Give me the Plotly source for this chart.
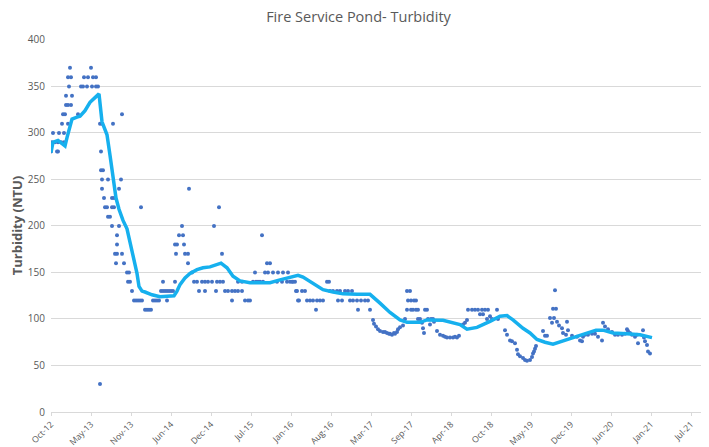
import plotly.graph_objects as go

# Individual turbidity samples (NTU)
sample_dates = [
    "2012-10-18", "2012-10-23", "2012-10-28", "2012-11-07", "2012-11-17", "2012-11-22", "2012-11-22", "2012-11-27",
    "2012-12-07", "2012-12-12", "2012-12-17", "2012-12-22", "2012-12-22", "2012-12-27", "2013-01-01", "2013-01-01",
    "2013-01-11", "2013-01-11", "2013-01-11", "2013-01-16", "2013-01-21", "2013-01-26", "2013-01-26", "2013-01-31",
    "2013-03-02", "2013-03-17", "2013-03-27", "2013-04-01", "2013-04-16", "2013-04-21", "2013-05-06", "2013-05-11",
    "2013-05-16", "2013-05-31", "2013-05-31", "2013-06-10", "2013-06-20", "2013-06-20", "2013-06-25", "2013-06-25",
    "2013-06-30", "2013-06-30", "2013-06-30", "2013-07-05", "2013-07-10", "2013-07-15", "2013-07-25", "2013-07-30",
    "2013-07-30", "2013-08-09", "2013-08-19", "2013-08-19", "2013-08-19", "2013-08-24", "2013-08-29", "2013-08-29",
    "2013-09-03", "2013-09-08", "2013-09-13", "2013-09-13", "2013-09-13", "2013-09-23", "2013-09-23", "2013-10-03",
    "2013-10-08", "2013-10-08", "2013-10-18", "2013-11-02", "2013-11-07", "2013-11-12", "2013-11-17", "2013-11-27",
    "2013-12-07", "2013-12-17", "2013-12-27", "2014-01-06", "2014-01-11", "2014-01-16", "2014-01-31", "2014-02-10",
    "2014-02-20", "2014-03-02", "2014-03-12", "2014-03-22", "2014-04-01", "2014-04-11", "2014-04-21", "2014-05-01",
    "2014-05-01", "2014-05-11", "2014-05-21", "2014-05-21", "2014-05-31", "2014-06-10", "2014-06-20", "2014-06-30",
    "2014-06-30", "2014-07-05", "2014-07-10", "2014-07-20", "2014-08-04", "2014-08-09", "2014-08-14", "2014-08-19",
    "2014-09-03", "2014-09-03", "2014-09-08", "2014-09-23", "2014-10-03", "2014-10-18", "2014-10-28", "2014-11-12",
    "2014-11-27", "2014-11-27", "2014-12-12", "2015-01-01", "2015-01-11", "2015-01-21", "2015-01-26", "2015-02-05",
    "2015-02-10", "2015-02-20", "2015-02-25", "2015-03-07", "2015-03-22", "2015-04-11", "2015-04-11", "2015-04-26",
    "2015-05-11", "2015-05-11", "2015-05-31", "2015-05-31", "2015-06-15", "2015-06-30", "2015-07-10", "2015-07-25",
    "2015-08-04", "2015-08-09", "2015-08-19", "2015-08-29", "2015-09-08", "2015-09-13", "2015-09-23", "2015-10-03",
    "2015-10-08", "2015-10-18", "2015-11-02", "2015-11-22", "2015-11-27", "2015-12-17", "2015-12-22", "2016-01-11",
    "2016-01-16", "2016-01-26", "2016-02-05", "2016-02-10", "2016-02-20", "2016-02-25", "2016-03-01", "2016-03-06",
    "2016-03-11", "2016-03-26", "2016-04-10", "2016-04-20", "2016-05-05", "2016-05-20", "2016-06-04", "2016-06-09",
    "2016-06-24", "2016-07-09", "2016-07-29", "2016-08-08", "2016-08-13", "2016-08-28", "2016-09-17", "2016-09-22",
    "2016-10-02", "2016-10-12", "2016-10-27", "2016-11-11", "2016-11-21", "2016-12-01", "2016-12-06", "2016-12-26",
    "2016-12-31", "2017-01-15", "2017-02-04", "2017-02-19", "2017-03-01", "2017-03-16", "2017-03-21", "2017-03-31",
    "2017-04-10", "2017-04-20", "2017-05-05", "2017-05-15", "2017-05-25", "2017-06-04", "2017-06-09", "2017-06-19",
    "2017-06-29", "2017-07-04", "2017-07-14", "2017-07-19", "2017-07-29", "2017-08-13", "2017-08-23", "2017-09-02",
    "2017-09-02", "2017-09-07", "2017-09-17", "2017-09-22", "2017-09-22", "2017-10-02", "2017-10-07", "2017-10-17",
    "2017-10-17", "2017-10-27", "2017-10-27", "2017-11-06", "2017-11-16", "2017-11-21", "2017-11-26", "2017-12-01",
    "2017-12-11", "2017-12-16", "2017-12-26", "2017-12-31", "2018-01-10", "2018-01-15", "2018-01-30", "2018-02-14",
    "2018-03-01", "2018-03-11", "2018-03-21", "2018-04-05", "2018-04-20", "2018-04-30", "2018-05-10", "2018-05-20",
    "2018-06-09", "2018-06-19", "2018-06-29", "2018-07-04", "2018-07-24", "2018-08-08", "2018-08-23", "2018-09-02",
    "2018-09-12", "2018-09-17", "2018-09-27", "2018-10-07", "2018-10-12", "2018-10-22", "2018-11-01", "2018-11-26",
    "2018-12-01", "2019-01-05", "2019-01-15", "2019-01-30", "2019-02-09", "2019-02-24", "2019-03-06", "2019-03-11",
    "2019-03-21", "2019-04-05", "2019-04-15", "2019-04-25", "2019-05-10", "2019-05-20", "2019-05-25", "2019-05-30",
    "2019-06-04", "2019-06-09", "2019-07-14", "2019-07-24", "2019-08-03", "2019-08-18", "2019-08-28", "2019-09-02",
    "2019-09-07", "2019-09-12", "2019-09-17", "2019-09-22", "2019-10-02", "2019-10-17", "2019-10-22", "2019-11-06",
    "2019-11-11", "2019-11-16", "2019-12-06", "2019-12-31", "2020-01-15", "2020-01-25", "2020-01-30", "2020-02-09",
    "2020-02-24", "2020-03-15", "2020-03-30", "2020-04-14", "2020-05-04", "2020-05-09", "2020-05-19", "2020-06-03",
    "2020-06-23", "2020-07-08", "2020-07-23", "2020-08-12", "2020-08-27", "2020-09-06", "2020-09-11", "2020-09-21",
    "2020-10-01", "2020-10-16", "2020-10-26", "2020-10-31", "2020-11-25", "2020-11-30", "2020-12-05", "2020-12-15",
    "2020-12-20", "2020-12-30",
]
sample_values = [
    280, 290, 300, 290, 280, 290, 280, 300,
    290, 310, 320, 300, 290, 320, 330, 340,
    310, 330, 360, 350, 370, 330, 360, 340,
    320, 350, 350, 360, 350, 360, 370, 350,
    360, 350, 360, 350, 310, 30, 280, 260,
    250, 310, 240, 260, 230, 220, 220, 210,
    250, 210, 230, 220, 200, 310, 230, 220,
    170, 160, 180, 190, 170, 240, 200, 250,
    170, 320, 160, 150, 140, 150, 140, 130,
    120, 120, 120, 120, 220, 120, 110, 110,
    110, 110, 120, 120, 120, 120, 130, 140,
    130, 130, 130, 120, 130, 130, 130, 180,
    140, 170, 180, 190, 200, 190, 180, 170,
    170, 160, 240, 150, 140, 140, 130, 140,
    140, 130, 140, 140, 200, 130, 140, 220,
    140, 170, 140, 130, 130, 130, 120, 130,
    130, 140, 130, 140, 120, 120, 120, 140,
    150, 140, 140, 140, 190, 140, 150, 160,
    150, 160, 150, 140, 150, 140, 150, 140,
    150, 140, 140, 140, 140, 130, 130, 120,
    120, 130, 130, 120, 120, 120, 110, 120,
    120, 120, 140, 140, 130, 130, 130, 120,
    130, 120, 130, 130, 120, 130, 120, 120,
    110, 120, 120, 120, 110, 99, 95, 92,
    89, 87, 86, 86, 85, 84, 84, 83,
    85, 84, 86, 89, 91, 93, 100, 110,
    130, 120, 130, 120, 110, 110, 120, 120,
    110, 110, 100, 100, 96, 90, 85, 110,
    110, 100, 94, 100, 100, 97, 87, 83,
    82, 81, 80, 80, 80, 81, 80, 82,
    94, 96, 99, 110, 110, 110, 110, 105,
    110, 105, 110, 100, 110, 103, 100, 110,
    100, 88, 83, 77, 76, 74, 67, 62,
    60, 58, 56, 55, 56, 59, 63, 65,
    68, 71, 87, 82, 82, 101, 96, 111,
    101, 131, 111, 97, 93, 90, 85, 83,
    97, 88, 82, 81, 77, 76, 81, 83,
    83, 84, 84, 81, 77, 96, 92, 89,
    86, 83, 83, 83, 84, 89, 87, 85,
    83, 81, 83, 74, 88, 80, 76, 72,
    65, 63,
]

# Moving-average trend line (NTU)
trend_dates = [
    "2012-10-18", "2012-10-28", "2012-11-22", "2012-12-12", "2012-12-27", "2013-01-06", "2013-01-31", "2013-02-25",
    "2013-03-12", "2013-04-06", "2013-05-01", "2013-05-26", "2013-06-15", "2013-06-30", "2013-07-10", "2013-07-25",
    "2013-08-09", "2013-08-24", "2013-09-08", "2013-09-23", "2013-10-13", "2013-11-02", "2013-11-27", "2013-12-22",
    "2014-01-01", "2014-01-16", "2014-01-31", "2014-03-07", "2014-04-16", "2014-06-05", "2014-06-25", "2014-07-10",
    "2014-07-25", "2014-08-19", "2014-09-13", "2014-10-18", "2014-11-17", "2014-12-22", "2015-01-26", "2015-02-15",
    "2015-03-17", "2015-04-16", "2015-05-21", "2015-07-10", "2015-08-29", "2015-10-18", "2015-12-07", "2016-01-26",
    "2016-03-06", "2016-03-31", "2016-05-20", "2016-07-09", "2016-08-28", "2016-10-17", "2016-12-26", "2017-03-01",
    "2017-04-20", "2017-06-09", "2017-07-29", "2017-09-02", "2017-11-06", "2017-12-11", "2018-03-01", "2018-04-05",
    "2018-05-25", "2018-06-29", "2018-08-18", "2018-10-22", "2018-12-11", "2019-01-15", "2019-02-14", "2019-04-05",
    "2019-05-10", "2019-06-14", "2019-07-24", "2019-09-02", "2019-10-27", "2020-01-15", "2020-04-04", "2020-05-09",
    "2020-06-28", "2020-09-06", "2020-11-10", "2021-01-09",
]
trend_values = [
    279, 290, 292, 288, 286, 295, 315, 317,
    318, 324, 333, 338, 342, 312, 307, 298,
    276, 252, 230, 218, 206, 197, 174, 149,
    135, 130, 129, 126, 124, 125, 125, 130,
    137, 144, 149, 153, 155, 156, 158, 160,
    155, 146, 141, 139, 139, 139, 142, 145,
    147, 145, 138, 131.5, 129, 127, 126.5, 126.5,
    117, 107, 99, 96.4, 96.4, 99, 98.6, 97,
    94, 89, 91, 97.5, 103, 103.6, 99, 90,
    85, 78, 75, 73, 77, 83, 88, 88,
    85, 84, 83, 80,
]

GREY = "#595959"
GRID = "#D9D9D9"
FONT = "Open Sans, Liberation Sans, sans-serif"

fig = go.Figure()
fig.add_trace(go.Scatter(
    x=sample_dates, y=sample_values, mode="markers",
    marker=dict(color="#4472C4", size=4), showlegend=False,
))
fig.add_trace(go.Scatter(
    x=trend_dates, y=trend_values, mode="lines",
    line=dict(color="#16B0EE", width=3.5), showlegend=False,
))

# The page body adds an 8 px margin, so the figure is sized to fit the window.
fig.update_layout(
    width=701, height=439,
    margin=dict(l=43, r=4, t=31, b=35),
    paper_bgcolor="white", plot_bgcolor="white",
    font=dict(family=FONT, color=GREY, size=10),
    title=dict(text="Fire Service Pond- Turbidity", x=0.5, xanchor="center",
               y=0.98, yanchor="middle", font=dict(size=14.5, color=GREY, family=FONT)),
)
fig.update_xaxes(
    type="date", automargin=False,
    range=["2012-10-18", "2021-10-01"],
    tickmode="linear", tick0="2012-10-18", dtick=200 * 86400000,
    tickformat="%b-%y", tickangle=-45,
    tickfont=dict(size=8.6, color=GREY),
    showgrid=False, showline=True, linecolor=GRID, linewidth=1,
    ticks="outside", ticklen=3, tickcolor=GRID, zeroline=False,
)
fig.update_yaxes(
    automargin=False,
    range=[0, 401], dtick=50, tick0=0,
    tickfont=dict(size=10, color=GREY), ticklabelstandoff=5,
    showgrid=True, gridcolor=GRID, gridwidth=1,
    zeroline=False, showline=False, ticks="",
    title=dict(text="<b>Turbidity (NTU)</b>", font=dict(size=13, color=GREY), standoff=2),
)

fig.write_html("out.html")
